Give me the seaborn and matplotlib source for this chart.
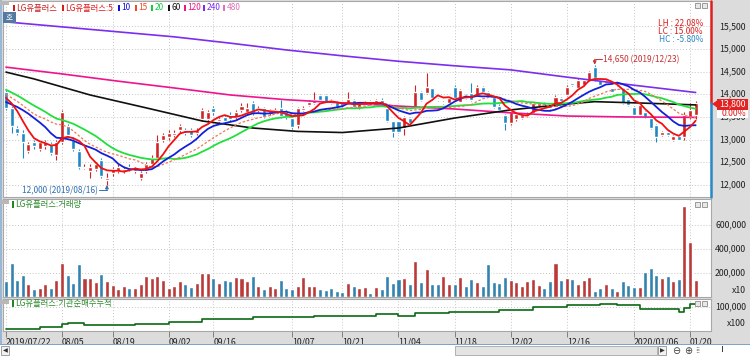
import matplotlib

matplotlib.use("Agg")
import matplotlib.pyplot as plt
import numpy as np
import pandas as pd
import seaborn as sns
from matplotlib.patches import Polygon, Rectangle

# trading days 2019-07-22 .. 2020-01-21, index 0..123
tick_idx = [0, 10, 19, 29, 37, 51, 60, 70, 80, 90, 100, 112, 122]
tick_labels = ["2019/07/22", "08/05", "08/19", "09/02", "09/16", "10/07", "10/21",
               "11/04", "11/18", "12/02", "12/16", "2020/01/06", "01/20"]

opens = [14050, 13700, 13250, 13150, 12750, 12950, 12800, 12850, 12900, 12650,
         12950, 13300, 13000, 12750, 12380, 12300, 12350, 12550, 12100, 12250,
         12300, 12300, 12400, 12300, 12150, 12300, 12450, 12600, 13000, 13050,
         13100, 13200, 13200, 13200, 13150, 13450, 13450, 13700, 13400, 13500,
         13550, 13500, 13650, 13600, 13800, 13650, 13700, 13580, 13600, 13690,
         13600, 13470, 13320, 13650, 13760, 13800, 13980, 13980, 13880, 13840,
         13800, 13800, 13870, 13690, 13760, 13860, 13760, 13880, 13690, 13400,
         13400, 13250, 13470, 13730, 14060, 14020, 14130, 13890, 13800, 13800,
         14170, 13840, 13980, 14020, 13980, 14170, 14060, 13950, 13750, 13540,
         13360, 13450, 13470, 13510, 13580, 13750, 13800, 13780, 13720, 13910,
         13980, 14240, 14130, 14200, 14320, 14600, 14320, 14250, 14130, 14130,
         14130, 13890, 13730, 13540, 13610, 13470, 13320, 13100, 13170, 12990,
         13080, 13050, 13500, 13550]
highs = [14100, 13750, 13300, 13200, 12950, 13000, 12950, 13000, 12950, 13000,
         13650, 13350, 13050, 12800, 12450, 12450, 12500, 12600, 12250, 12400,
         12450, 12400, 12450, 12400, 12300, 12500, 12650, 13100, 13150, 13200,
         13200, 13350, 13250, 13250, 13250, 13700, 13650, 13750, 13500, 13550,
         13600, 13650, 13800, 13800, 13850, 13750, 13720, 13680, 13700, 13870,
         13650, 13500, 13720, 13750, 13870, 14040, 14000, 14000, 13900, 13860,
         13830, 14040, 13900, 13820, 13860, 13880, 13900, 13920, 13720, 13420,
         13420, 13520, 13500, 14200, 14080, 14460, 14150, 13920, 13850, 13930,
         14200, 14120, 14000, 14240, 14200, 14190, 14080, 13970, 13780, 13560,
         13620, 13600, 13560, 13600, 13820, 13830, 13820, 13800, 13980, 13940,
         14200, 14260, 14350, 14340, 14520, 14650, 14340, 14320, 14150, 14190,
         14150, 13910, 13750, 13780, 13630, 13490, 13340, 13190, 13190, 13100,
         13100, 13600, 13800, 13850]
lows = [13650, 13150, 13100, 12600, 12700, 12800, 12750, 12800, 12650, 12550,
        12900, 13050, 12750, 12350, 12350, 12150, 12300, 12150, 12000, 12200,
        12250, 12250, 12300, 12250, 12100, 12250, 12400, 12550, 12950, 13000,
        13050, 13150, 13100, 13050, 13100, 13400, 13400, 13550, 13350, 13350,
        13400, 13450, 13600, 13550, 13550, 13600, 13480, 13550, 13580, 13480,
        13450, 13230, 13250, 13620, 13740, 13780, 13850, 13820, 13780, 13700,
        13720, 13780, 13700, 13670, 13740, 13770, 13740, 13760, 13380, 13060,
        13150, 13100, 13330, 13700, 13850, 14000, 13880, 13850, 13780, 13780,
        13880, 13820, 13890, 13850, 13960, 14040, 13930, 13700, 13630, 13210,
        13330, 13420, 13450, 13490, 13560, 13730, 13720, 13680, 13700, 13840,
        13960, 14180, 14110, 14180, 14300, 14300, 14180, 14230, 14040, 14110,
        13780, 13740, 13520, 13520, 13480, 13230, 12950, 13080, 13080, 12970,
        12980, 13000, 13450, 13450]
closes = [13700, 13300, 13150, 12950, 12900, 12850, 12950, 12950, 12700, 12950,
          13600, 13100, 12800, 12400, 12400, 12400, 12450, 12200, 12150, 12350,
          12400, 12350, 12350, 12350, 12250, 12450, 12600, 12950, 13100, 13150,
          13150, 13300, 13150, 13100, 13200, 13650, 13600, 13600, 13450, 13400,
          13450, 13600, 13750, 13700, 13580, 13700, 13500, 13650, 13650, 13510,
          13500, 13280, 13690, 13700, 13840, 13870, 13870, 13840, 13800, 13730,
          13750, 13890, 13730, 13800, 13840, 13790, 13870, 13780, 13400, 13170,
          13170, 13500, 13360, 14060, 13870, 14170, 13910, 13870, 13820, 13910,
          13910, 14100, 13910, 13870, 14170, 14060, 13950, 13730, 13650, 13360,
          13600, 13560, 13540, 13580, 13800, 13800, 13740, 13700, 13950, 13860,
          14170, 14200, 14320, 14320, 14500, 14350, 14200, 14300, 14060, 14170,
          13800, 13760, 13540, 13760, 13500, 13250, 13060, 13170, 13100, 13080,
          13000, 13550, 13650, 13800]
volumes = [133, 280, 139, 183, 111, 64, 75, 111, 72, 139,
           286, 183, 117, 275, 161, 161, 128, 194, 133, 97,
           64, 92, 75, 75, 106, 175, 158, 175, 139, 75,
           92, 133, 111, 83, 114, 203, 197, 161, 114, 139,
           133, 164, 161, 136, 175, 92, 70, 92, 72, 139,
           72, 70, 92, 164, 92, 92, 67, 56, 72, 47,
           39, 117, 95, 72, 81, 33, 86, 70, 175, 114,
           153, 156, 111, 300, 128, 236, 111, 111, 175, 111,
           111, 164, 95, 153, 122, 95, 275, 122, 114, 167,
           139, 122, 92, 133, 153, 100, 75, 133, 283, 139,
           161, 153, 111, 139, 164, 53, 75, 111, 75, 53,
           136, 97, 86, 86, 208, 244, 181, 161, 175, 133,
           153, 758, 458, 139]  # thousands

# closes before 07/22, only used to warm up the short moving averages
pre_closes = [14500, 14450, 14400, 14450, 14350, 14300, 14350, 14300, 14350, 14250,
              13850, 13700, 13650, 13700, 13800, 13900, 14000, 14050, 13950]

# long moving averages
ma_long_idx = [0, 10, 20, 30, 40, 50, 60, 70, 80, 90, 100, 110, 123]
ma240 = [15600, 15490, 15380, 15270, 15130, 14980, 14850, 14730, 14630, 14540, 14380, 14230, 14040]
ma120 = [14600, 14450, 14290, 14140, 13985, 13880, 13810, 13740, 13675, 13590, 13520, 13500, 13490]
ma60_idx = [0, 5, 15, 25, 35, 44, 52, 60, 70, 80, 90, 100, 105, 113, 123]
ma60 = [14490, 14340, 13985, 13700, 13410, 13255, 13180, 13155, 13255, 13475, 13655, 13785, 13837, 13808, 13765]

inst_idx = [0, 6, 10, 11, 14, 19, 23, 29, 35, 44, 55, 66, 70, 73, 79, 88, 94, 100, 106, 109, 113, 120, 121, 122, 123]
inst_cum = [31000, 36500, 46000, 49000, 43000, 43500, 47000, 54000, 61500, 69500, 73000, 78000, 72000,
            80000, 85000, 91500, 99000, 106000, 108500, 105000, 93000, 85000, 96000, 109000, 113500]

W, H = 750, 356
UP, DOWN = "#cf2424", "#1f87c5"
GRID = "#c4c4c4"

sns.set_theme(style="white")
plt.rcParams["font.family"] = ["Noto Sans CJK KR", "DejaVu Sans"]


def px_box(x0, y0, x1, y1):
    return [x0 / W, 1 - y1 / H, (x1 - x0) / W, (y1 - y0) / H]


def fig_rect(fig, x0, y0, x1, y1, fc, ec="none", z=0):
    fig.add_artist(Rectangle((x0 / W, 1 - y1 / H), (x1 - x0) / W, (y1 - y0) / H,
                             transform=fig.transFigure, facecolor=fc, edgecolor=ec,
                             lw=0.7, zorder=z))


def fig_text(fig, x, y, s, **kw):
    kw.setdefault("va", "center")
    kw.setdefault("fontsize", 6)
    fig.text(x / W, 1 - y / H, s, **kw)


def style_panel(ax):
    ax.set_facecolor("white")
    for sp in ax.spines.values():
        sp.set_color("#a8a8a8")
        sp.set_linewidth(0.8)
    ax.tick_params(left=False, right=False, labelleft=False, labelright=False)
    ax.set_xlabel("")
    ax.set_ylabel("")
    ax.grid(True, color=GRID, linestyle=(0, (1, 2)), linewidth=0.7)


n = len(closes)
idx = np.arange(n)
df = pd.DataFrame({"idx": idx, "open": opens, "high": highs, "low": lows,
                   "close": closes, "volume": np.array(volumes) * 1000})
df["dir"] = np.where(df["close"] >= df["open"], "up", "down")

all_close = pd.Series(pre_closes + closes, dtype=float)
short_ma = {k: all_close.rolling(k).mean().iloc[len(pre_closes):].to_numpy() for k in (5, 10, 15, 20)}

fig = plt.figure(figsize=(W / 100, H / 100), dpi=100)
fig.patch.set_facecolor("#dcdcdc")

ax_p = fig.add_axes(px_box(3, 1, 711, 197))
ax_v = fig.add_axes(px_box(3, 199, 711, 297), sharex=ax_p)
ax_i = fig.add_axes(px_box(3, 299, 711, 331), sharex=ax_p)

x_lo, x_hi = (3 - 6) / 5.607, (711 - 6) / 5.607
p_lo, p_hi = 11730, 16062

# ---- price panel
colors = np.where(df["dir"] == "up", UP, DOWN)
body_lo = np.minimum(df["open"], df["close"])
body_h = np.maximum(np.abs(df["close"] - df["open"]), 12)
ax_p.vlines(idx, df["low"], df["high"], colors=colors, linewidth=0.8, zorder=2)
ax_p.bar(idx, body_h, bottom=body_lo, width=0.72, color=colors, zorder=2)

sns.lineplot(x=ma_long_idx, y=ma240, ax=ax_p, color="#7b2df0", lw=1.2, zorder=3)
sns.lineplot(x=ma_long_idx, y=ma120, ax=ax_p, color="#f0148c", lw=1.2, zorder=3)
sns.lineplot(x=ma60_idx, y=ma60, ax=ax_p, color="#101010", lw=1.2, zorder=3)
sns.lineplot(x=idx, y=short_ma[20], ax=ax_p, color="#22e03c", lw=1.3, zorder=3)
sns.lineplot(x=idx, y=short_ma[15], ax=ax_p, color="#f07858", lw=0.9, ls=(0, (2, 1.5)), zorder=3)
sns.lineplot(x=idx, y=short_ma[10], ax=ax_p, color="#1420d8", lw=1.3, zorder=3)
sns.lineplot(x=idx, y=short_ma[5], ax=ax_p, color="#f01010", lw=1.3, zorder=3)

style_panel(ax_p)
ax_p.set_xlim(x_lo, x_hi)
ax_p.set_ylim(p_lo, p_hi)
price_ticks = list(range(12000, 16000, 500))
ax_p.set_yticks(price_ticks)
ax_p.set_xticks(tick_idx)
ax_p.tick_params(labelbottom=False, bottom=False)
for p in price_ticks:
    ax_p.text(1.0495, p, f"{p:,}", transform=ax_p.get_yaxis_transform(), ha="right",
              va="center", fontsize=6.3, color="#202020", clip_on=False)

# right edge price bar
ax_p.plot([1, 1], [13800, p_hi], transform=ax_p.get_yaxis_transform(), color="#e02020", lw=1.8, clip_on=False, zorder=5)
ax_p.plot([1, 1], [p_lo, 13800], transform=ax_p.get_yaxis_transform(), color="#2888c8", lw=1.8, clip_on=False, zorder=5)

# high / low markers
hi_i, lo_i = int(np.argmax(highs)), int(np.argmin(lows))
ax_p.plot([hi_i, hi_i + 1.3], [14770, 14770], color="#c83030", lw=0.7)
ax_p.annotate("", xy=(hi_i, highs[hi_i] + 5), xytext=(hi_i, 14775),
              arrowprops=dict(arrowstyle="-|>", color="#c83030", lw=0.7, mutation_scale=5, shrinkA=0, shrinkB=0))
ax_p.text(hi_i + 1.5, 14775, "14,650 (2019/12/23)", color="#c83030", fontsize=6, va="center", ha="left")
ax_p.plot([lo_i - 1.4, lo_i], [11880, 11880], color="#2f6fb0", lw=0.7)
ax_p.annotate("", xy=(lo_i, lows[lo_i] - 5), xytext=(lo_i, 11875),
              arrowprops=dict(arrowstyle="-|>", color="#2f6fb0", lw=0.7, mutation_scale=5, shrinkA=0, shrinkB=0))
ax_p.text(lo_i - 1.6, 11880, "12,000 (2019/08/16)", color="#2f6fb0", fontsize=6, va="center", ha="right")

# ---- volume panel
sns.barplot(data=df, x="idx", y="volume", hue="dir", palette={"up": UP, "down": DOWN},
            native_scale=True, dodge=False, width=0.72, legend=False, ax=ax_v, zorder=2)
style_panel(ax_v)
ax_v.set_ylim(0, 813000)
ax_v.set_yticks([200000, 400000, 600000])
ax_v.tick_params(labelbottom=False, bottom=False)
for v in (200000, 400000, 600000):
    ax_v.text(1.0495, v, f"{v:,}", transform=ax_v.get_yaxis_transform(), ha="right",
              va="center", fontsize=6.3, color="#202020", clip_on=False)
ax_v.text(1.0495, 57000, "x10", transform=ax_v.get_yaxis_transform(), ha="right",
          va="center", fontsize=6.3, color="#202020", clip_on=False)

# ---- institutional net buying panel
sns.lineplot(x=inst_idx, y=inst_cum, ax=ax_i, color="#0a6a14", lw=1.2, drawstyle="steps-post")
style_panel(ax_i)
ax_i.set_ylim(25000, 125000)
ax_i.set_yticks([100000])
ax_i.text(1.0495, 100000, "100,000", transform=ax_i.get_yaxis_transform(), ha="right",
          va="center", fontsize=6.3, color="#202020", clip_on=False)
ax_i.text(1.0495, 47000, "x100", transform=ax_i.get_yaxis_transform(), ha="right",
          va="center", fontsize=6.3, color="#202020", clip_on=False)
ax_i.set_xlim(x_lo, x_hi)
ax_i.set_xticks(tick_idx)
ax_i.set_xticklabels(tick_labels, ha="left", fontsize=6.3, color="#202020")
ax_i.tick_params(axis="x", bottom=True, labelbottom=True, length=4, width=0.7,
                 color="#808080", pad=1, direction="out")

# ---- header legend
fig_rect(fig, 0, 1, 9, 5, "#b8b8b8", z=5)
legend_items = [(13, "LG유플러스", "#c81e1e"), (62, "LG유플러스:5", "#e01818"),
                (118, "10", "#1010e0"), (135, "15", "#f04828"), (151, "20", "#10d040"),
                (168, "60", "#101010"), (184, "120", "#f0148c"), (203, "240", "#7b2df0"),
                (223, "480", "#e070b8")]
for x, s, c in legend_items:
    fig_rect(fig, x, 5, x + 2, 11, c, z=5)
    fig_text(fig, x + 3.5, 8, s, color=c, fontsize=6, zorder=5)

fig_rect(fig, 3, 12, 16, 23, "#557aa2", z=5)
fig_text(fig, 9.5, 17.5, "호", color="white", fontsize=5.5, ha="center", zorder=6)

fig_text(fig, 703, 23, "LH : 22.08%", color="#e01c1c", fontsize=6, ha="right", zorder=5)
fig_text(fig, 703, 31, "LC : 15.00%", color="#e01c1c", fontsize=6, ha="right", zorder=5)
fig_text(fig, 703, 39, "HC : -5.80%", color="#2a86c4", fontsize=6, ha="right", zorder=5)

# current price tag
fig_rect(fig, 717, 98.5, 748, 109.5, "#e42222", z=6)
fig.add_artist(Polygon([(712 / W, 1 - 104 / H), (717 / W, 1 - 100.5 / H), (717 / W, 1 - 107.5 / H)],
                       closed=True, transform=fig.transFigure, facecolor="#e42222", edgecolor="none", zorder=6))
fig_text(fig, 746, 104, "13,800", color="white", fontsize=6.3, ha="right", zorder=7)
fig_rect(fig, 717, 110, 748, 117.5, "white", z=6)
fig_text(fig, 746, 113.5, "0.00%", color="#e01c1c", fontsize=6.3, ha="right", zorder=7)

# panel titles and small buttons
fig_rect(fig, 0, 200, 9, 204, "#b8b8b8", z=5)
fig_rect(fig, 12, 201, 14, 208, "#1e8a1e", z=5)
fig_text(fig, 15.5, 204.5, "LG유플러스:거래량", color="#2a8a2a", fontsize=6, zorder=5)
fig_rect(fig, 0, 300, 9, 303.5, "#b8b8b8", z=5)
fig_rect(fig, 12, 300, 14, 307, "#1e8a1e", z=5)
fig_text(fig, 15.5, 303.5, "LG유플러스:기관순매수누적", color="#2a8a2a", fontsize=6, zorder=5)
for y in (3, 202, 301):
    fig_rect(fig, 695, y, 700, y + 5, "#e8e8e8", "#9a9a9a", z=5)
    fig_rect(fig, 702, y, 707, y + 5, "#e8e8e8", "#9a9a9a", z=5)

# left border and bottom scroll bar
fig_rect(fig, 0, 0, 2, 345, "#9ab8d6", z=4)
fig_rect(fig, 0, 344, 750, 345, "#7ea4c8", z=4)
fig_rect(fig, 0, 345, 750, 356, "white", z=4)
fig_rect(fig, 1, 346, 9, 355, "#f2f2f2", "#a0a0a0", z=5)
fig_text(fig, 5, 350.5, "◀", color="#303030", fontsize=4.5, ha="center", family="DejaVu Sans", zorder=6)
fig_rect(fig, 455, 346, 657, 355, "#e4e4e4", "#b0b0b0", z=5)
fig_rect(fig, 658, 346, 666, 355, "#f2f2f2", "#a0a0a0", z=5)
fig_text(fig, 662, 350.5, "▶", color="#303030", fontsize=4.5, ha="center", family="DejaVu Sans", zorder=6)
fig_text(fig, 676, 350.5, "⊖", color="#404040", fontsize=7, ha="center", family="DejaVu Sans", zorder=6)
fig_text(fig, 688, 350.5, "⊕", color="#404040", fontsize=7, ha="center", family="DejaVu Sans", zorder=6)
fig_text(fig, 698, 350.5, "⁞⁞", color="#404040", fontsize=6, ha="center", family="DejaVu Sans", zorder=6)
fig_rect(fig, 710, 348.5, 749, 349.2, "#404040", z=6)
fig_rect(fig, 722, 346, 723.2, 352, "#404040", z=6)

fig.savefig("out.png", dpi=100, facecolor=fig.get_facecolor())
